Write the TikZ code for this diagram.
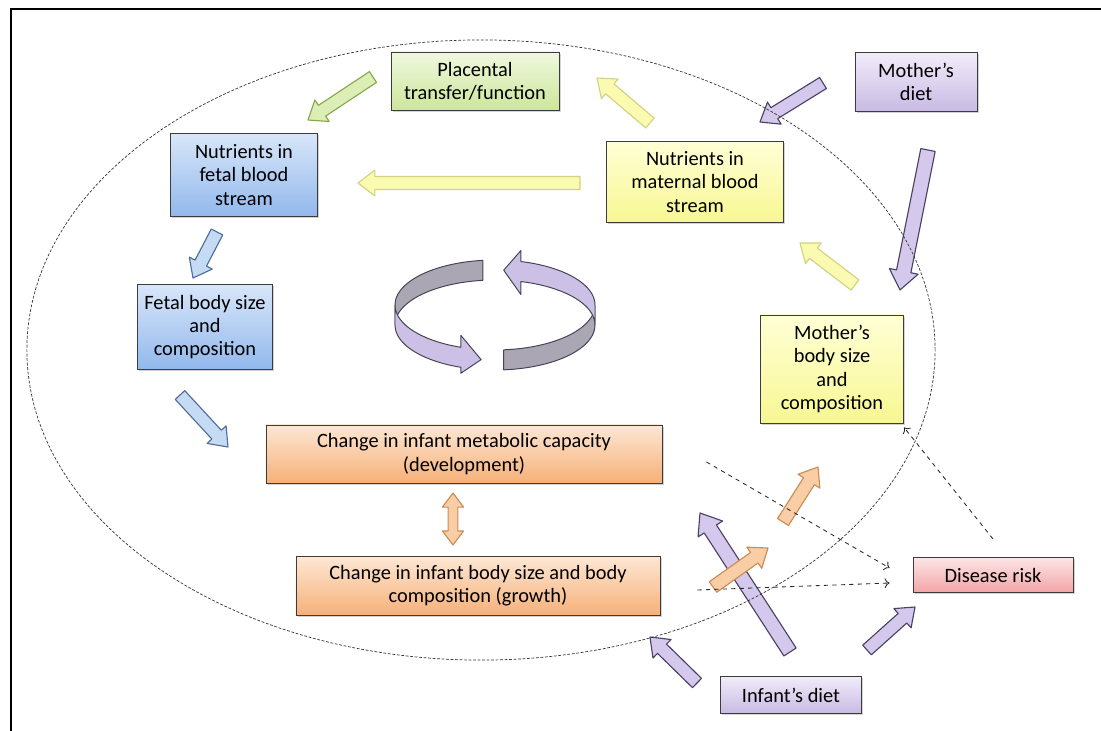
\documentclass[tikz,border=0pt]{standalone}
\usepackage{fontspec}
\setmainfont{Carlito}
\usepackage{tikz}
\usetikzlibrary{positioning,calc,shadows,arrows.meta}
\definecolor{NUTline}{RGB}{60,60,60}
\definecolor{NUTgreenA}{RGB}{240,248,222}
\definecolor{NUTgreenB}{RGB}{204,230,156}
\definecolor{NUTblueA}{RGB}{216,230,249}
\definecolor{NUTblueB}{RGB}{146,184,236}
\definecolor{NUTyellowA}{RGB}{255,255,214}
\definecolor{NUTyellowB}{RGB}{247,247,146}
\definecolor{NUTpurpleA}{RGB}{242,236,249}
\definecolor{NUTpurpleB}{RGB}{200,186,228}
\definecolor{NUTorangeA}{RGB}{253,231,212}
\definecolor{NUTorangeB}{RGB}{246,176,120}
\definecolor{NUTpinkA}{RGB}{253,230,230}
\definecolor{NUTpinkB}{RGB}{242,164,166}
\tikzstyle{nbox}  = [rectangle, draw=NUTline, line width=0.6pt,
                     align=center, inner sep=2pt, text=black,
                     font=\fontsize{14.5}{16.5}\selectfont,
                     drop shadow={shadow xshift=1.2pt, shadow yshift=-1.2pt, opacity=0.35}]
\tikzstyle{Bgreen}  = [nbox, top color=NUTgreenA,  bottom color=NUTgreenB]
\tikzstyle{Bblue}   = [nbox, top color=NUTblueA,   bottom color=NUTblueB]
\tikzstyle{Byellow} = [nbox, top color=NUTyellowA, bottom color=NUTyellowB]
\tikzstyle{Bpurple} = [nbox, top color=NUTpurpleA, bottom color=NUTpurpleB]
\tikzstyle{Borange} = [nbox, top color=NUTorangeA, bottom color=NUTorangeB]
\tikzstyle{Bpink}   = [nbox, top color=NUTpinkA,   bottom color=NUTpinkB]
% block arrow looks
\tikzstyle{Agreen}  = [fill={rgb,255:red,220;green,237;blue,181}, draw={rgb,255:red,134;green,168;blue,74}, line width=0.8pt, line join=round]
\tikzstyle{Ayellow} = [fill={rgb,255:red,250;green,250;blue,176}, draw={rgb,255:red,210;green,210;blue,130}, line width=0.8pt, line join=round]
\tikzstyle{Apurple} = [fill={rgb,255:red,212;green,200;blue,236}, draw={rgb,255:red,75;green,66;blue,99}, line width=0.8pt, line join=round]
\tikzstyle{Ablue}   = [fill={rgb,255:red,197;green,218;blue,243}, draw={rgb,255:red,79;green,109;blue,153}, line width=0.8pt, line join=round]
\tikzstyle{Aorange} = [fill={rgb,255:red,249;green,205;blue,165}, draw={rgb,255:red,201;green,141;blue,85}, line width=0.8pt, line join=round]
\tikzstyle{Rgrey}   = [fill={rgb,255:red,170;green,166;blue,180}, draw={rgb,255:red,70;green,68;blue,82}, line width=0.7pt, line join=round]
\tikzstyle{Rpurple} = [fill={rgb,255:red,204;green,192;blue,230}, draw={rgb,255:red,70;green,68;blue,82}, line width=0.7pt, line join=round]
\tikzstyle{dasharr} = [-{To[length=3.5pt, width=7pt]}, dashed, line width=0.6pt, black!85]
% fat arrow from #3 to #4, half shaft width #1
\newcommand{\blockarr}[4][5pt]{%
  \pgfmathsetlengthmacro\bahw{2*#1}%
  \pgfmathsetlengthmacro\bahl{2.6*#1}%
  \coordinate (bah) at ($(#4)!\bahl!(#3)$);
  \filldraw[#2] ($(#3)!#1!90:(#4)$) -- ($(bah)!#1!90:(#4)$) -- ($(bah)!\bahw!90:(#4)$)
    -- (#4) -- ($(bah)!\bahw!-90:(#4)$) -- ($(bah)!#1!-90:(#4)$) -- ($(#3)!#1!-90:(#4)$) -- cycle;
}
% fat arrow with two heads
\newcommand{\dblarr}[3]{%
  \coordinate (dba) at ($(#2)!10pt!(#3)$);
  \coordinate (dbb) at ($(#3)!10pt!(#2)$);
  \filldraw[#1] (#2) -- ($(dba)!7.5pt!90:(#3)$) -- ($(dba)!3.5pt!90:(#3)$) -- ($(dbb)!3.5pt!90:(#3)$)
    -- ($(dbb)!7.5pt!90:(#3)$) -- (#3) -- ($(dbb)!7.5pt!-90:(#3)$) -- ($(dbb)!3.5pt!-90:(#3)$)
    -- ($(dba)!3.5pt!-90:(#3)$) -- ($(dba)!7.5pt!-90:(#3)$) -- cycle;
}

\begin{document}
\begin{tikzpicture}[x=0.025cm, y=-0.025cm]
  \useasboundingbox (0,0) rectangle (1101,731);
  \draw[line width=2pt] (11,731) -- (11,9) -- (1101,9);

  % ends of the fat arrows
  \coordinate (gr1) at (373,77);  \coordinate (gr2) at (308,120);
  \coordinate (yl1) at (650,123); \coordinate (yl2) at (597,78);
  \coordinate (md1) at (823,83);  \coordinate (md2) at (760,122);
  \coordinate (yh1) at (580,183); \coordinate (yh2) at (358,183);
  \coordinate (md3) at (928,150); \coordinate (md4) at (900,290);
  \coordinate (yb1) at (855,285); \coordinate (yb2) at (800,243);
  \coordinate (bl1) at (217,232); \coordinate (bl2) at (193,278);
  \coordinate (bl3) at (180,395); \coordinate (bl4) at (228,447);
  \coordinate (or1) at (453,493); \coordinate (or2) at (453,545);
  \coordinate (or3) at (783,522); \coordinate (or4) at (818,467);
  \coordinate (or5) at (713,587); \coordinate (or6) at (768,548);
  \coordinate (id1) at (790,652); \coordinate (id2) at (700,513);
  \coordinate (id3) at (697,683); \coordinate (id4) at (650,637);
  \coordinate (id5) at (867,650); \coordinate (id6) at (915,607);

  \blockarr[4.6pt]{Agreen}{gr1}{gr2}
  \blockarr[4.6pt]{Ayellow}{yl1}{yl2}
  \blockarr[4.6pt]{Ayellow}{yh1}{yh2}
  \blockarr[4.6pt]{Ayellow}{yb1}{yb2}
  \blockarr[4.6pt]{Apurple}{md1}{md2}
  \blockarr[5.2pt]{Apurple}{md3}{md4}
  \blockarr[4.6pt]{Ablue}{bl1}{bl2}
  \blockarr[4.6pt]{Ablue}{bl3}{bl4}
  \blockarr[5.2pt]{Apurple}{id1}{id2}
  \blockarr[4.6pt]{Apurple}{id3}{id4}
  \blockarr[4.6pt]{Apurple}{id5}{id6}
  \blockarr[4.6pt]{Aorange}{or3}{or4}
  \blockarr[4.6pt]{Aorange}{or5}{or6}
  \dblarr{Aorange}{or1}{or2}

  % cycle in the middle
  \filldraw[Rgrey] plot[domain=97:180, samples=30] ({495+100*cos(\x)},{305-45*sin(\x)})
    -- plot[domain=180:97, samples=30] ({495+100*cos(\x)},{325-45*sin(\x)}) -- cycle;
  \filldraw[Rpurple] plot[domain=180:250, samples=30] ({495+100*cos(\x)},{305-45*sin(\x)})
    -- (460.8,335.3) -- (481.1,359.6) -- (460.8,373.3)
    -- plot[domain=250:180, samples=30] ({495+100*cos(\x)},{325-45*sin(\x)}) -- cycle;
  \filldraw[Rgrey] plot[domain=275:360, samples=30] ({495+100*cos(\x)},{305-45*sin(\x)})
    -- plot[domain=360:275, samples=30] ({495+100*cos(\x)},{325-45*sin(\x)}) -- cycle;
  \filldraw[Rpurple] plot[domain=360:435, samples=30] ({495+100*cos(\x)},{305-45*sin(\x)})
    -- (520.9,250.5) -- (503.7,270.2) -- (520.9,294.5)
    -- plot[domain=435:360, samples=30] ({495+100*cos(\x)},{325-45*sin(\x)}) -- cycle;

  \draw[black!80, line width=0.5pt, dash pattern=on 2pt off 1.2pt]
    (481,350) ellipse [x radius=11.35cm, y radius=7.75cm];

  \node[Bgreen,  minimum width=4.2cm,  minimum height=1.45cm] (place)  at (475,81)  {Placental\\transfer/function};
  \node[Bpurple, minimum width=3.05cm, minimum height=1.48cm] (mdiet)  at (916,82)  {Mother’s\\diet};
  \node[Bblue,   minimum width=3.68cm, minimum height=2.08cm] (fblood) at (244,175) {Nutrients in\\fetal blood\\stream};
  \node[Byellow, minimum width=4.43cm, minimum height=2.03cm] (mblood) at (695,182) {Nutrients in\\maternal blood\\stream};
  \node[Bblue,   minimum width=3.38cm, minimum height=2.13cm] (fbody)  at (205,327) {Fetal body size\\and\\composition};
  \node[Byellow, minimum width=3.58cm, minimum height=2.7cm]  (mbody)  at (832,369) {Mother’s\\body size\\and\\composition};
  \node[Borange, minimum width=9.9cm,  minimum height=1.45cm] (metab)  at (464,454) {Change in infant metabolic capacity\\(development)};
  \node[Borange, minimum width=9.1cm,  minimum height=1.48cm] (growth) at (478,586) {Change in infant body size and body\\composition (growth)};
  \node[Bpink,   minimum width=4.0cm,  minimum height=0.88cm] (risk)   at (993,575) {Disease risk};
  \node[Bpurple, minimum width=3.53cm, minimum height=0.93cm] (idiet)  at (791,695) {Infant’s diet};

  \draw[dasharr] ($(metab.east)+(44,8)$) -- ($(risk.west)+(-23,-7)$);
  \draw[dasharr] ($(growth.east)+(37,4)$) -- ($(risk.west)+(-23,8)$);
  \draw[dasharr] ($(risk.north)+(0,-18)$) -- ($(mbody.south east)+(0,4)$);
\end{tikzpicture}
\end{document}
